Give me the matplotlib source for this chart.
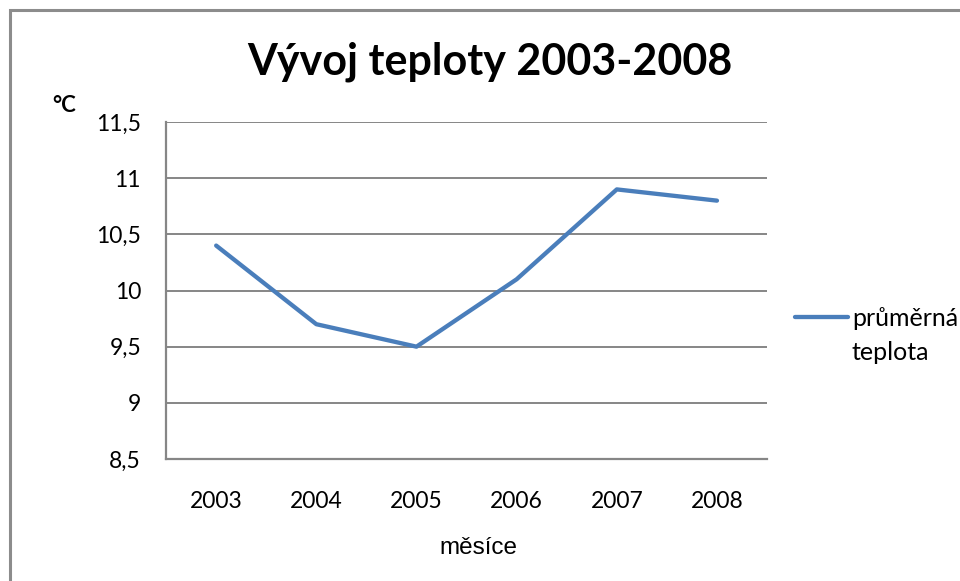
import matplotlib.pyplot as plt
from matplotlib.patches import Rectangle

years = ["2003", "2004", "2005", "2006", "2007", "2008"]
temps = [10.4, 9.7, 9.5, 10.1, 10.9, 10.8]
yticks = [8.5, 9, 9.5, 10, 10.5, 11, 11.5]
ylabels = ["8,5", "9", "9,5", "10", "10,5", "11", "11,5"]

plt.rcParams['font.family'] = ['Lato', 'DejaVu Sans']
gray = "#868686"

fig = plt.figure(figsize=(9.6, 5.81), dpi=100)
ax = fig.add_axes([0.173, 0.21, 0.626, 0.58])

# outer chart frame (runs off the right and bottom edges)
fig.patches.append(Rectangle((9.5 / 960, -0.1), 1.2, 1 - 10 / 581 + 0.1,
                             transform=fig.transFigure, fill=False,
                             edgecolor="#8c8c8c", linewidth=2.2))

line, = ax.plot(range(len(years)), temps, color="#4A7EBB", linewidth=3.1,
                solid_capstyle="round", solid_joinstyle="round")

ax.set_xlim(-0.5, len(years) - 0.5)
ax.set_ylim(8.5, 11.5)
ax.set_xticks(range(len(years)))
ax.set_xticklabels(years, fontsize=16.5)
ax.set_yticks(yticks)
ax.set_yticklabels(ylabels, fontsize=16.5)
ax.tick_params(length=0)
ax.tick_params(axis="y", pad=18)
ax.tick_params(axis="x", pad=23)
ax.grid(axis="y", color=gray, linewidth=1.4)
ax.set_axisbelow(True)
for s in ["top", "right"]:
    ax.spines[s].set_visible(False)
for s in ["left", "bottom"]:
    ax.spines[s].set_color(gray)
    ax.spines[s].set_linewidth(1.6)

fig.text(0.510, 0.893, "Vývoj teploty 2003-2008", ha="center", va="center",
         fontsize=31, fontweight="bold")
fig.text(0.067, 0.818, "°C", ha="center", va="center", fontsize=16,
         fontweight="bold")
fig.text(0.498, 0.057, "měsíce", ha="center", va="center", fontsize=17.5,
         family="Liberation Sans")

leg = fig.legend([line], ["průměrná"], loc="center left",
                 bbox_to_anchor=(0.828, 0.452), frameon=False, fontsize=18,
                 handlelength=2.12, handletextpad=0.16, borderpad=0,
                 borderaxespad=0)
fig.text(0.8875, 0.394, "teplota", ha="left", va="center", fontsize=18)

fig.savefig("out.png", dpi=100)
